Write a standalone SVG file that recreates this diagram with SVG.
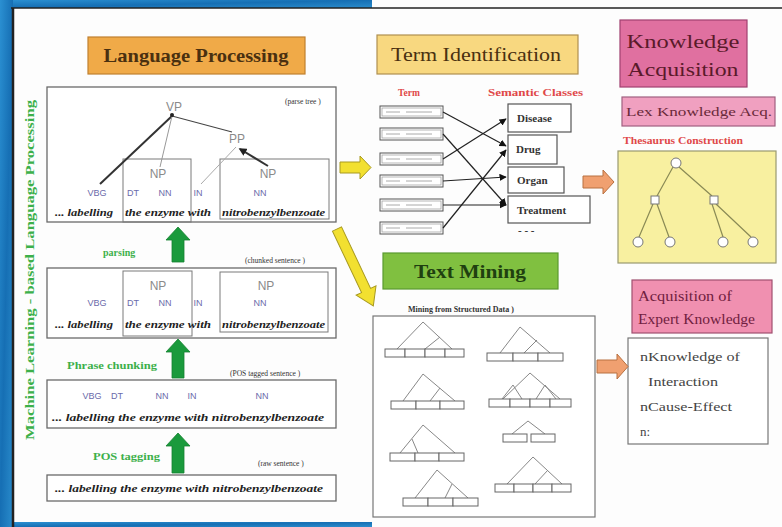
<svg xmlns="http://www.w3.org/2000/svg" width="782" height="527" viewBox="0 0 782 527">
<defs>
<linearGradient id="blue" x1="0" y1="0" x2="1" y2="1">
<stop offset="0" stop-color="#2b90d2"/><stop offset="0.5" stop-color="#166fb4"/><stop offset="1" stop-color="#2a8ccc"/>
</linearGradient>
<marker id="ah" viewBox="0 0 10 10" refX="9" refY="5" markerWidth="6" markerHeight="6" orient="auto"><path d="M0,0 L10,5 L0,10 z" fill="#111"/></marker>
<marker id="ahd" viewBox="0 0 10 10" refX="8" refY="5" markerWidth="4" markerHeight="4" orient="auto"><path d="M0,0 L10,5 L0,10 z" fill="#222"/></marker>
<style>
.box{fill:#fff;stroke:#6a6a6a;stroke-width:1.3}
.ibox{fill:none;stroke:#7a7a7a;stroke-width:1}
.pos{font-family:"Liberation Sans",Arial,sans-serif;font-size:9px;fill:#6a6aaa;text-anchor:middle}
.ph{font-family:"Liberation Sans",Arial,sans-serif;font-size:12px;fill:#8a8a8a;text-anchor:middle}
.wd{font-family:"Liberation Serif","Times New Roman",serif;font-size:9.5px;font-weight:bold;font-style:italic;fill:#222}
.note{font-family:"Liberation Serif","Times New Roman",serif;font-size:7.5px;fill:#333}
.glab{font-family:"Liberation Serif","Times New Roman",serif;font-size:10px;font-weight:bold;fill:#3cb04a}
.garrow{fill:#1a9a3c;stroke:#158030;stroke-width:0.8}
.hdr{font-family:"Liberation Serif","Times New Roman",serif;text-anchor:middle}
.red{font-family:"Liberation Serif","Times New Roman",serif;font-size:9.5px;font-weight:bold;fill:#e04848}
.tbox{fill:#fff;stroke:#555;stroke-width:1}
.tin{fill:none;stroke:#999;stroke-width:0.7}
.tl{stroke:#aaa;stroke-width:1}
.cls{fill:#fff;stroke:#555;stroke-width:1.2}
.clt{font-family:"Liberation Serif","Times New Roman",serif;font-size:11px;font-weight:bold;fill:#333}
.edge{stroke:#222;stroke-width:1.2;fill:none}
.cell{fill:#fff;stroke:#666;stroke-width:1}
.mt{stroke:#888;stroke-width:1;fill:none}
.th{stroke:#8a8a55;stroke-width:1.2;fill:none}
.tn{fill:#fff;stroke:#777;stroke-width:1}
.yarrow{fill:#f2e030;stroke:#a89a20;stroke-width:1}
.oarrow{fill:#f0a070;stroke:#b87040;stroke-width:1}
.kt{font-family:"Liberation Serif","Times New Roman",serif;font-size:13px;fill:#444}
</style>
</defs>

<!-- slide background and frame -->
<rect x="0" y="0" width="782" height="527" fill="#fdfdfd"/>
<rect x="0" y="0" width="372" height="8" fill="url(#blue)"/>
<rect x="0" y="0" width="13" height="527" fill="url(#blue)"/>
<rect x="13" y="522" width="359" height="5" fill="url(#blue)"/>
<line x1="11" y1="8" x2="782" y2="8" stroke="#222" stroke-width="1.5"/>
<line x1="13" y1="8" x2="13" y2="527" stroke="#222" stroke-width="2.5"/>

<!-- Language Processing -->
<g id="lang-header">
<rect x="88" y="37" width="217" height="37" fill="#f0aa48" stroke="#c08030" stroke-width="1.2"/>
<text class="hdr" x="196" y="62" font-size="19" font-weight="bold" fill="#4a3010" textLength="185" lengthAdjust="spacingAndGlyphs">Language Processing</text>
</g>

<g id="vertical-label">
<text transform="translate(34,270) rotate(-90)" text-anchor="middle" font-family="Liberation Serif, Times New Roman, serif" font-size="13" font-weight="bold" fill="#3cb04a" textLength="340" lengthAdjust="spacingAndGlyphs">Machine Learning - based Language Processing</text>
</g>

<g id="parse-tree">
<rect class="box" x="47" y="87" width="289" height="135"/>
<rect class="ibox" x="123" y="159" width="68" height="63"/>
<rect class="ibox" x="220" y="159" width="109" height="60"/>
<text class="note" x="285" y="104">(parse tree )</text>
<text class="ph" x="174" y="111">VP</text>
<text class="ph" x="237" y="143">PP</text>
<text class="ph" x="158" y="178">NP</text>
<text class="ph" x="268" y="178">NP</text>
<line x1="172" y1="116" x2="100" y2="184" stroke="#333" stroke-width="2"/>
<line x1="172" y1="116" x2="160" y2="167" stroke="#999" stroke-width="1"/>
<line x1="172" y1="116" x2="232" y2="132" stroke="#444" stroke-width="1.2"/>
<line x1="236" y1="147" x2="201" y2="184" stroke="#aaa" stroke-width="1"/>
<line x1="268" y1="166" x2="240" y2="149" stroke="#333" stroke-width="2" marker-end="url(#ahd)"/>
<circle cx="172" cy="115" r="2" fill="#222"/>
<text class="pos" x="97" y="196">VBG</text>
<text class="pos" x="133" y="196">DT</text>
<text class="pos" x="165" y="196">NN</text>
<text class="pos" x="198" y="196">IN</text>
<text class="pos" x="260" y="196">NN</text>
<text class="wd" x="55" y="216" textLength="58" lengthAdjust="spacingAndGlyphs">... labelling</text>
<text class="wd" x="125" y="216" textLength="86" lengthAdjust="spacingAndGlyphs">the enzyme with</text>
<text class="wd" x="222" y="216" textLength="103" lengthAdjust="spacingAndGlyphs">nitrobenzylbenzoate</text>
</g>

<g id="parsing-step">
<polygon class="garrow" points="172,262 184,262 184,240 190,240 178,227 166,240 172,240"/>
<text class="glab" x="103" y="256">parsing</text>
<text class="note" x="245" y="263">(chunked sentence )</text>
</g>

<g id="chunked">
<rect class="box" x="47" y="268" width="289" height="70"/>
<rect class="ibox" x="123" y="271" width="69" height="65"/>
<rect class="ibox" x="220" y="272" width="108" height="60"/>
<text class="ph" x="158" y="290">NP</text>
<text class="ph" x="266" y="290">NP</text>
<text class="pos" x="97" y="306">VBG</text>
<text class="pos" x="133" y="306">DT</text>
<text class="pos" x="165" y="306">NN</text>
<text class="pos" x="198" y="306">IN</text>
<text class="pos" x="260" y="306">NN</text>
<text class="wd" x="55" y="328" textLength="58" lengthAdjust="spacingAndGlyphs">... labelling</text>
<text class="wd" x="125" y="328" textLength="86" lengthAdjust="spacingAndGlyphs">the enzyme with</text>
<text class="wd" x="222" y="328" textLength="103" lengthAdjust="spacingAndGlyphs">nitrobenzylbenzoate</text>
</g>

<g id="chunking-step">
<polygon class="garrow" points="172,378 184,378 184,352 190,352 178,339 166,352 172,352"/>
<text class="glab" x="67" y="369" textLength="90" lengthAdjust="spacingAndGlyphs">Phrase chunking</text>
<text class="note" x="230" y="376">(POS tagged sentence )</text>
</g>

<g id="pos-tagged">
<rect class="box" x="47" y="380" width="289" height="48"/>
<text class="pos" x="92" y="399">VBG</text>
<text class="pos" x="117" y="399">DT</text>
<text class="pos" x="162" y="399">NN</text>
<text class="pos" x="192" y="399">IN</text>
<text class="pos" x="262" y="399">NN</text>
<text class="wd" x="52" y="421" textLength="272" lengthAdjust="spacingAndGlyphs">... labelling  the enzyme with  nitrobenzylbenzoate</text>
</g>

<g id="tagging-step">
<polygon class="garrow" points="172,473 184,473 184,446 190,446 178,433 166,446 172,446"/>
<text class="glab" x="93" y="460" textLength="67" lengthAdjust="spacingAndGlyphs">POS tagging</text>
<text class="note" x="258" y="466">(raw sentence )</text>
</g>

<g id="raw">
<rect class="box" x="47" y="475" width="289" height="26"/>
<text class="wd" x="55" y="492" textLength="268" lengthAdjust="spacingAndGlyphs">... labelling  the enzyme with  nitrobenzylbenzoate</text>
</g>

<!-- Term Identification -->
<g id="term-header">
<rect x="377" y="35" width="201" height="39" fill="#f8d880" stroke="#b09050" stroke-width="1.2"/>
<text class="hdr" x="476" y="61" font-size="19" fill="#4a3010" textLength="170" lengthAdjust="spacingAndGlyphs">Term Identification</text>
</g>

<g id="term-identification">
<text class="red" x="398" y="96">Term</text>
<text class="red" x="488" y="96" textLength="95" lengthAdjust="spacingAndGlyphs">Semantic Classes</text>
<g id="terms">
<rect class="tbox" x="380" y="106" width="63" height="12"/><rect class="tin" x="382" y="108" width="59" height="8"/><line class="tl" x1="386" y1="112" x2="400" y2="112"/><line class="tl" x1="406" y1="112" x2="432" y2="112"/>
<rect class="tbox" x="380" y="128" width="63" height="12"/><rect class="tin" x="382" y="130" width="59" height="8"/><line class="tl" x1="386" y1="134" x2="400" y2="134"/><line class="tl" x1="406" y1="134" x2="432" y2="134"/>
<rect class="tbox" x="380" y="153" width="63" height="12"/><rect class="tin" x="382" y="155" width="59" height="8"/><line class="tl" x1="386" y1="159" x2="400" y2="159"/><line class="tl" x1="406" y1="159" x2="432" y2="159"/>
<rect class="tbox" x="380" y="175" width="63" height="12"/><rect class="tin" x="382" y="177" width="59" height="8"/><line class="tl" x1="386" y1="181" x2="400" y2="181"/><line class="tl" x1="406" y1="181" x2="432" y2="181"/>
<rect class="tbox" x="380" y="199" width="63" height="12"/><rect class="tin" x="382" y="201" width="59" height="8"/><line class="tl" x1="386" y1="205" x2="400" y2="205"/><line class="tl" x1="406" y1="205" x2="432" y2="205"/>
<rect class="tbox" x="380" y="222" width="63" height="12"/><rect class="tin" x="382" y="224" width="59" height="8"/><line class="tl" x1="386" y1="228" x2="400" y2="228"/><line class="tl" x1="406" y1="228" x2="432" y2="228"/>
</g>
<g id="classes">
<rect class="cls" x="508" y="104" width="63" height="28"/><text class="clt" x="517" y="122">Disease</text>
<rect class="cls" x="508" y="135" width="49" height="29"/><text class="clt" x="516" y="153">Drug</text>
<rect class="cls" x="508" y="167" width="56" height="26"/><text class="clt" x="517" y="184">Organ</text>
<rect class="cls" x="508" y="196" width="82" height="27"/><text class="clt" x="517" y="214">Treatment</text>
<text class="clt" x="518" y="234" font-weight="normal" fill="#777">-    -    -</text>
</g>
</g>

<g id="term-edges">
<line class="edge" x1="443" y1="112" x2="506" y2="146" marker-end="url(#ah)"/>
<line class="edge" x1="443" y1="134" x2="506" y2="205" marker-end="url(#ah)"/>
<line class="edge" x1="443" y1="159" x2="506" y2="119" marker-end="url(#ah)"/>
<line class="edge" x1="443" y1="181" x2="506" y2="177" marker-end="url(#ah)"/>
<line class="edge" x1="443" y1="205" x2="506" y2="205" marker-end="url(#ah)"/>
<line class="edge" x1="443" y1="228" x2="506" y2="150" marker-end="url(#ah)"/>
</g>

<!-- Text Mining -->
<g id="mining-header">
<rect x="383" y="253" width="175" height="36" fill="#80c040" stroke="#5a9a30" stroke-width="1.2"/>
<text class="hdr" x="470" y="278" font-size="19" font-weight="bold" fill="#1f4010" textLength="112" lengthAdjust="spacingAndGlyphs">Text Mining</text>
</g>

<g id="text-mining">
<text x="408" y="312" font-family="Liberation Serif, Times New Roman, serif" font-size="8" font-weight="bold" fill="#333">Mining from Structured Data    )</text>
<rect x="373" y="316" width="222" height="201" fill="#fff" stroke="#777" stroke-width="1.2"/>
<!-- tree 1 -->
<g>
<path class="mt" d="M397,349 L423,322 L452,349 M440,337 L425,349"/>
<rect class="cell" x="385" y="349" width="20" height="8"/><rect class="cell" x="405" y="349" width="20" height="8"/><rect class="cell" x="425" y="349" width="20" height="8"/><rect class="cell" x="445" y="349" width="19" height="8"/>
</g>
<!-- tree 2 -->
<g>
<path class="mt" d="M500,353 L520,327 L550,353 M537,340 L524,353"/>
<rect class="cell" x="487" y="353" width="26" height="8"/><rect class="cell" x="513" y="353" width="25" height="8"/><rect class="cell" x="538" y="353" width="25" height="8"/>
</g>
<!-- tree 3 -->
<g>
<path class="mt" d="M403,401 L423,374 L455,401 M440,388 L430,401"/>
<rect class="cell" x="391" y="401" width="25" height="8"/><rect class="cell" x="416" y="401" width="24" height="8"/><rect class="cell" x="440" y="401" width="24" height="8"/>
</g>
<!-- tree 4 -->
<g>
<path class="mt" d="M503,399 L530,373 L560,399 M513,385 L502,399 M513,385 L522,399 M545,385 L536,399 M545,385 L556,399"/>
<rect class="cell" x="489" y="399" width="21" height="8"/><rect class="cell" x="510" y="399" width="20" height="8"/><rect class="cell" x="530" y="399" width="20" height="8"/><rect class="cell" x="550" y="399" width="21" height="8"/>
</g>
<!-- tree 5 -->
<g>
<path class="mt" d="M400,453 L423,425 L455,453 M412,439 L418,453"/>
<rect class="cell" x="390" y="453" width="25" height="8"/><rect class="cell" x="415" y="453" width="24" height="8"/><rect class="cell" x="439" y="453" width="25" height="8"/>
</g>
<!-- tree 6 -->
<g>
<path class="mt" d="M512,434 L528,421 L545,434"/>
<rect class="cell" x="503" y="434" width="24" height="8"/><rect class="cell" x="531" y="434" width="24" height="8"/>
</g>
<!-- tree 7 -->
<g>
<path class="mt" d="M415,498 L437,470 L468,498 M452,484 L445,498"/>
<rect class="cell" x="403" y="498" width="25" height="8"/><rect class="cell" x="428" y="498" width="25" height="8"/><rect class="cell" x="453" y="498" width="25" height="8"/>
</g>
<!-- tree 8 -->
<g>
<path class="mt" d="M507,484 L533,457 L562,484 M548,470 L535,484"/>
<rect class="cell" x="495" y="484" width="19" height="8"/><rect class="cell" x="514" y="484" width="19" height="8"/><rect class="cell" x="533" y="484" width="19" height="8"/><rect class="cell" x="552" y="484" width="19" height="8"/>
</g>
</g>

<!-- Knowledge Acquisition -->
<g id="knowledge-header">
<rect x="620" y="20" width="127" height="67" fill="#e070a0" stroke="#a04070" stroke-width="1.2"/>
<text class="hdr" x="683" y="48" font-size="19" fill="#5a1a2a" textLength="113" lengthAdjust="spacingAndGlyphs">Knowledge</text>
<text class="hdr" x="683" y="76" font-size="19" fill="#5a1a2a" textLength="111" lengthAdjust="spacingAndGlyphs">Acquisition</text>
</g>

<g id="lex-knowledge">
<rect x="622" y="97" width="153" height="29" fill="#f0a0c0" stroke="#a06080" stroke-width="1.2"/>
<text class="hdr" x="699" y="116" font-size="13" fill="#6a2a3a" textLength="146" lengthAdjust="spacingAndGlyphs">Lex Knowledge Acq.</text>
</g>

<g id="thesaurus">
<text class="red" x="623" y="144" font-size="9" textLength="120" lengthAdjust="spacingAndGlyphs">Thesaurus Construction</text>
<rect x="618" y="151" width="158" height="112" fill="#f8f0a0" stroke="#9a9a70" stroke-width="1.2"/>
<path class="th" d="M673,167 L657,196 M679,167 L712,196 M653,204 L639,237 M657,204 L669,237 M712,204 L723,237 M716,204 L751,237"/>
<circle class="tn" cx="676" cy="163" r="5"/>
<rect class="tn" x="651" y="196" width="8" height="8"/>
<rect class="tn" x="710" y="196" width="8" height="8"/>
<circle class="tn" cx="638" cy="242" r="5"/>
<circle class="tn" cx="670" cy="242" r="5"/>
<circle class="tn" cx="723" cy="242" r="5"/>
<circle class="tn" cx="753" cy="242" r="5"/>
</g>

<g id="expert-header">
<rect x="632" y="280" width="140" height="53" fill="#f090b0" stroke="#a05070" stroke-width="1.2"/>
<text x="638" y="301" font-family="Liberation Serif, Times New Roman, serif" font-size="14" fill="#702040" textLength="94" lengthAdjust="spacingAndGlyphs">Acquisition of</text>
<text x="638" y="324" font-family="Liberation Serif, Times New Roman, serif" font-size="14" fill="#702040" textLength="117" lengthAdjust="spacingAndGlyphs">Expert Knowledge</text>
</g>

<g id="expert-items">
<rect x="628" y="338" width="140" height="106" fill="#fff" stroke="#777" stroke-width="1.2"/>
<text class="kt" x="640" y="361" textLength="100" lengthAdjust="spacingAndGlyphs">nKnowledge of</text>
<text class="kt" x="648" y="386" textLength="70" lengthAdjust="spacingAndGlyphs">Interaction</text>
<text class="kt" x="640" y="411" textLength="92" lengthAdjust="spacingAndGlyphs">nCause-Effect</text>
<text class="kt" x="640" y="436">n:</text>
</g>

<!-- connectors between stages -->
<g id="connectors">
<polygon class="yarrow" points="340,162 360,162 360,156 371,167.5 360,179 360,173 340,173"/>
<g transform="translate(337,229) rotate(64.7)">
<polygon class="yarrow" points="0,-5 68,-5 68,-11 85,0 68,11 68,5 0,5"/>
</g>
<polygon class="oarrow" points="583,176 603,176 603,170 614,182 603,194 603,188 583,188"/>
<polygon class="oarrow" points="597,360 617,360 617,354 628,366.5 617,379 617,373 597,373"/>
</g>
</svg>
